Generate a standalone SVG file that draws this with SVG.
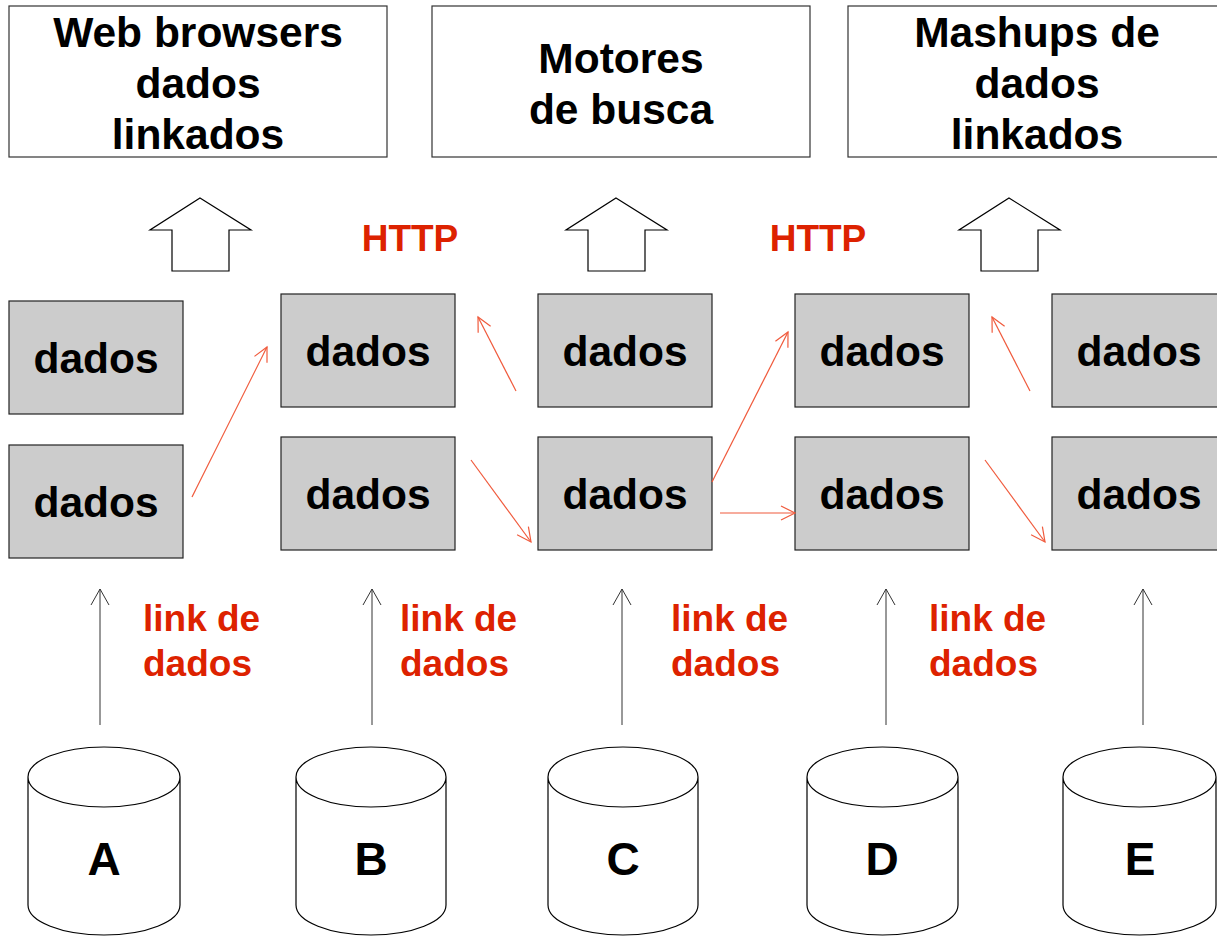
<svg xmlns="http://www.w3.org/2000/svg" width="1217" height="937" viewBox="0 0 1217 937">
<style>
.top{fill:#fff;stroke:#333;stroke-width:1.2}
.box{fill:#cccccc;stroke:#222;stroke-width:1.2}
.big{font-family:"Liberation Sans",Arial,sans-serif;font-weight:bold;font-size:42.5px;fill:#000;text-anchor:middle}
.lbl{font-family:"Liberation Sans",Arial,sans-serif;font-weight:bold;font-size:37px;fill:#dd2200}
.blk{fill:#fff;stroke:#000;stroke-width:1.2}
.cyl{fill:#fff;stroke:#000;stroke-width:1.2}
.red{stroke:#f05a3c;stroke-width:1.2;fill:none}
.blkline{stroke:#333;stroke-width:1;fill:none}
</style>
<defs>
<marker id="ra" markerWidth="20" markerHeight="20" refX="16" refY="10" orient="auto" markerUnits="userSpaceOnUse">
<path d="M2,3 L16,10 L2,17" fill="none" stroke="#f05a3c" stroke-width="1.2"/>
</marker>
<marker id="ba" markerWidth="20" markerHeight="20" refX="16" refY="10" orient="auto" markerUnits="userSpaceOnUse">
<path d="M0,1 L16,10 L0,19" fill="none" stroke="#333" stroke-width="1"/>
</marker>
</defs>
<rect width="1217" height="937" fill="#fff"/>

<g id="top1"><rect class="top" x="9" y="6" width="378" height="151"/>
<text class="big" x="198" y="47">Web browsers</text><text class="big" x="198" y="98">dados</text><text class="big" x="198" y="149">linkados</text></g>
<g id="top2"><rect class="top" x="432" y="6" width="378" height="151"/>
<text class="big" x="621" y="73">Motores</text><text class="big" x="621" y="124">de busca</text></g>
<g id="top3"><rect class="top" x="848" y="6" width="378" height="151"/>
<text class="big" x="1037" y="47">Mashups de</text><text class="big" x="1037" y="98">dados</text><text class="big" x="1037" y="149">linkados</text></g>

<g id="up1"><polygon class="blk" points="200,198 251,230 229,230 229,271 172,271 172,230 150,230"/></g>
<g id="up2"><polygon class="blk" points="616,198 667,230 645,230 645,271 588,271 588,230 566,230"/></g>
<g id="up3"><polygon class="blk" points="1009,198 1060,230 1038,230 1038,271 981,271 981,230 959,230"/></g>

<g id="http1"><text class="lbl" x="410" y="251" text-anchor="middle">HTTP</text></g>
<g id="http2"><text class="lbl" x="818" y="251" text-anchor="middle">HTTP</text></g>

<g id="dA1"><rect class="box" x="9" y="301" width="174" height="113"/><text class="big" x="96" y="373">dados</text></g>
<g id="dA2"><rect class="box" x="9" y="445" width="174" height="113"/><text class="big" x="96" y="517">dados</text></g>
<g id="dB1"><rect class="box" x="281" y="294" width="174" height="113"/><text class="big" x="368" y="366">dados</text></g>
<g id="dB2"><rect class="box" x="281" y="437" width="174" height="113"/><text class="big" x="368" y="509">dados</text></g>
<g id="dC1"><rect class="box" x="538" y="294" width="174" height="113"/><text class="big" x="625" y="366">dados</text></g>
<g id="dC2"><rect class="box" x="538" y="437" width="174" height="113"/><text class="big" x="625" y="509">dados</text></g>
<g id="dD1"><rect class="box" x="795" y="294" width="174" height="113"/><text class="big" x="882" y="366">dados</text></g>
<g id="dD2"><rect class="box" x="795" y="437" width="174" height="113"/><text class="big" x="882" y="509">dados</text></g>
<g id="dE1"><rect class="box" x="1052" y="294" width="174" height="113"/><text class="big" x="1139" y="366">dados</text></g>
<g id="dE2"><rect class="box" x="1052" y="437" width="174" height="113"/><text class="big" x="1139" y="509">dados</text></g>

<g id="connectors">
<line class="red" x1="192" y1="497" x2="267" y2="347" marker-end="url(#ra)"/>
<line class="red" x1="516" y1="391" x2="478" y2="317" marker-end="url(#ra)"/>
<line class="red" x1="471" y1="460" x2="531" y2="542" marker-end="url(#ra)"/>
<line class="red" x1="712" y1="482" x2="788" y2="332" marker-end="url(#ra)"/>
<line class="red" x1="720" y1="513" x2="795" y2="513" marker-end="url(#ra)"/>
<line class="red" x1="1030" y1="391" x2="992" y2="317" marker-end="url(#ra)"/>
<line class="red" x1="985" y1="460" x2="1045" y2="542" marker-end="url(#ra)"/>
<line class="blkline" x1="100" y1="725" x2="100" y2="589" marker-end="url(#ba)"/>
<line class="blkline" x1="372" y1="725" x2="372" y2="589" marker-end="url(#ba)"/>
<line class="blkline" x1="622" y1="725" x2="622" y2="589" marker-end="url(#ba)"/>
<line class="blkline" x1="886" y1="725" x2="886" y2="589" marker-end="url(#ba)"/>
<line class="blkline" x1="1143" y1="725" x2="1143" y2="589" marker-end="url(#ba)"/>
</g>

<g id="link1"><text class="lbl" x="143" y="631">link de</text><text class="lbl" x="143" y="676">dados</text></g>
<g id="link2"><text class="lbl" x="400" y="631">link de</text><text class="lbl" x="400" y="676">dados</text></g>
<g id="link3"><text class="lbl" x="671" y="631">link de</text><text class="lbl" x="671" y="676">dados</text></g>
<g id="link4"><text class="lbl" x="929" y="631">link de</text><text class="lbl" x="929" y="676">dados</text></g>

<g id="cylA"><path class="cyl" d="M28,777 L28,905 A76,30 0 0 0 180,905 L180,777 A76,30 0 0 0 28,777 A76,30 0 0 0 180,777"/><text class="big" x="104" y="875" style="font-size:46px">A</text></g>
<g id="cylB"><path class="cyl" d="M296,777 L296,905 A75,30 0 0 0 446,905 L446,777 A75,30 0 0 0 296,777 A75,30 0 0 0 446,777"/><text class="big" x="371" y="875" style="font-size:46px">B</text></g>
<g id="cylC"><path class="cyl" d="M548,777 L548,905 A75,30 0 0 0 698,905 L698,777 A75,30 0 0 0 548,777 A75,30 0 0 0 698,777"/><text class="big" x="623" y="875" style="font-size:46px">C</text></g>
<g id="cylD"><path class="cyl" d="M807,777 L807,905 A75.5,30 0 0 0 958,905 L958,777 A75.5,30 0 0 0 807,777 A75.5,30 0 0 0 958,777"/><text class="big" x="882" y="875" style="font-size:46px">D</text></g>
<g id="cylE"><path class="cyl" d="M1063,777 L1063,905 A76.5,30 0 0 0 1216,905 L1216,777 A76.5,30 0 0 0 1063,777 A76.5,30 0 0 0 1216,777"/><text class="big" x="1140" y="875" style="font-size:46px">E</text></g>
</svg>
